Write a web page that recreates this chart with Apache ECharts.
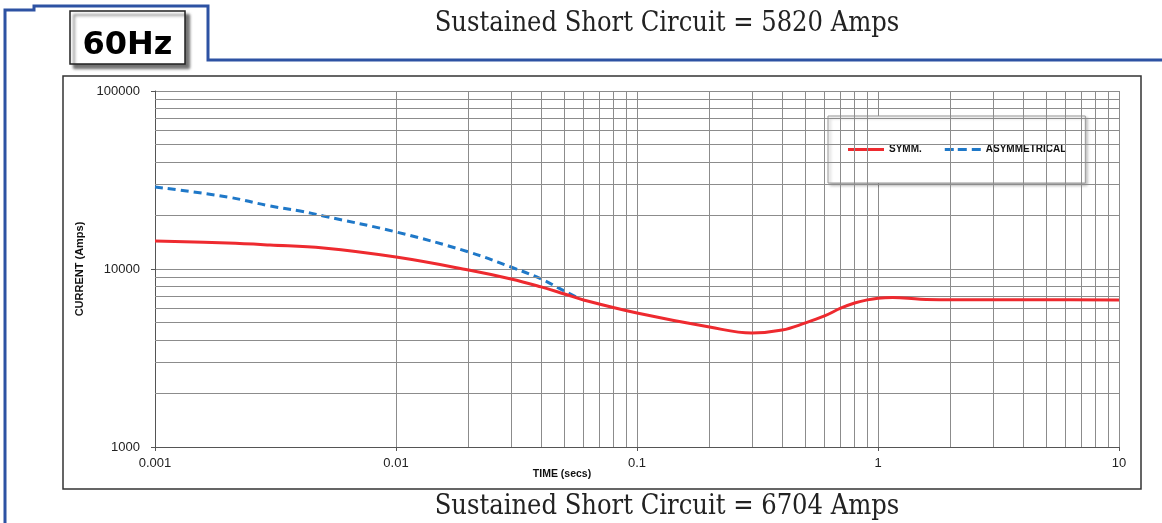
<!DOCTYPE html>
<html>
<head>
<meta charset="utf-8">
<script src="https://cdn.jsdelivr.net/npm/echarts@6/dist/echarts.min.js"></script>
<style>html,body{margin:0;padding:0;background:#fff;}#c{width:1162px;height:523px;}</style>
</head>
<body>
<div id="c"></div>
<script>
// ---- data ----
const timeSymm = [0.001, 0.002, 0.003, 0.005, 0.01, 0.02, 0.03, 0.04, 0.05, 0.06, 0.1, 0.2, 0.3, 0.4, 0.5, 0.6, 0.7, 0.8, 0.9, 1.0, 1.15, 1.5, 2, 5, 10];
const currentSymm = [14370, 13990, 13640, 13120, 11670, 9870, 8790, 7930, 7240, 6700, 5660, 4720, 4370, 4540, 4980, 5450, 6020, 6440, 6700, 6860, 6920, 6760, 6720, 6710, 6704];
const timeAsym = [0.001, 0.002, 0.003, 0.004, 0.005, 0.01, 0.02, 0.03, 0.04, 0.05, 0.058];
const currentAsym = [28900, 25370, 22600, 21180, 19850, 16150, 12470, 10260, 8790, 7520, 6780];
const xTickLabels = ['0.001', '0.01', '0.1', '1', '10'];
const yTickLabels = ['1000', '10000', '100000'];
const xMinorGrid = [];
[0.001, 0.01, 0.1, 1].forEach(d => { for (let k = 2; k <= 9; k++) xMinorGrid.push(+(d * k).toPrecision(3)); });
const yMinorGrid = [];
[1000, 10000].forEach(d => { for (let k = 2; k <= 9; k++) yMinorGrid.push(d * k); });
const topTitle = 'Sustained Short Circuit = 5820 Amps';
const bottomTitle = 'Sustained Short Circuit = 6704 Amps';

const pairs = (xs, ys) => xs.map((x, i) => [x, ys[i]]);
const nearestLabel = (v, labels) => {
  let best = labels[0], bd = Infinity;
  labels.forEach(l => { const d = Math.abs(Math.log10(+l) - Math.log10(v)); if (d < bd) { bd = d; best = l; } });
  return best;
};

const GRID = '#8c8c8c';
const RED = '#ee2a2f';
const BLUE = '#1f78c8';
const chart = echarts.init(document.getElementById('c'), null, { renderer: 'canvas' });
const minorLines = xMinorGrid.map(v => ({ xAxis: v })).concat(yMinorGrid.map(v => ({ yAxis: v })));

chart.setOption({
  animation: false,
  backgroundColor: '#fff',
  grid: { left: 155, right: 43, top: 91, bottom: 76, containLabel: false },
  xAxis: {
    type: 'log', logBase: 10, min: 0.001, max: 10,
    axisLine: { show: true, lineStyle: { color: '#555', width: 1 } },
    axisTick: { show: true, length: 4, lineStyle: { color: '#555' } },
    axisLabel: { margin: 10, fontFamily: 'Liberation Sans', fontSize: 13, color: '#222',
      formatter: v => nearestLabel(v, xTickLabels) },
    splitLine: { show: true, lineStyle: { color: GRID, width: 1 } }
  },
  yAxis: {
    type: 'log', logBase: 10, min: 1000, max: 100000,
    name: 'CURRENT (Amps)', nameLocation: 'middle', nameRotate: 90, nameGap: 66,
    nameTextStyle: { fontFamily: 'Liberation Sans', fontSize: 11, fontWeight: 'bold', color: '#111' },
    axisLine: { show: true, lineStyle: { color: '#555', width: 1 } },
    axisTick: { show: true, length: 4, lineStyle: { color: '#555' } },
    axisLabel: { margin: 15, fontFamily: 'Liberation Sans', fontSize: 13, color: '#222',
      formatter: v => nearestLabel(v, yTickLabels) },
    splitLine: { show: true, lineStyle: { color: GRID, width: 1 } }
  },
  legend: {
    data: [
      { name: 'SYMM.', icon: 'path://M0,0H36V3H0Z' },
      { name: 'ASYMMETRICAL', icon: 'path://M0,0H9V3H0Z M13,0H22V3H13Z M27,0H36V3H27Z' }
    ],
    left: 828, top: 116, orient: 'horizontal',
    padding: [28, 19, 28, 20],
    itemGap: 23, itemWidth: 36, itemHeight: 3,
    backgroundColor: '#fff', borderColor: '#9a9a9a', borderWidth: 1,
    shadowColor: 'rgba(0,0,0,0.3)', shadowBlur: 3, shadowOffsetX: 2, shadowOffsetY: 2,
    textStyle: { fontFamily: 'Liberation Sans', fontSize: 10, fontWeight: 'bold', color: '#111', lineHeight: 11 }
  },
  series: [
    {
      name: 'grid', type: 'line', data: [], z: 1, silent: true,
      markLine: { silent: true, symbol: 'none', animation: false, label: { show: false },
        lineStyle: { color: GRID, width: 1, type: 'solid' }, data: minorLines }
    },
    {
      name: 'SYMM.', type: 'line', data: pairs(timeSymm, currentSymm), z: 5,
      smooth: 0.4, symbol: 'none', showSymbol: false,
      lineStyle: { color: RED, width: 3 }, itemStyle: { color: RED }
    },
    {
      name: 'ASYMMETRICAL', type: 'line', data: pairs(timeAsym, currentAsym), z: 4,
      smooth: 0.4, symbol: 'none', showSymbol: false,
      lineStyle: { color: BLUE, width: 3, type: [8, 5] }, itemStyle: { color: BLUE }
    }
  ],
  graphic: [
    { type: 'polyline', silent: true, z: 10,
      shape: { points: [[5, 523], [5, 10], [34, 10], [34, 6], [208, 6], [208, 60], [1162, 60]] },
      style: { fill: null, stroke: '#2d52a3', lineWidth: 3 } },
    { type: 'rect', silent: true, z: 0,
      shape: { x: 63, y: 76, width: 1078, height: 413 },
      style: { fill: null, stroke: '#333', lineWidth: 1.5 } },
    { type: 'rect', silent: true, z: 10,
      shape: { x: 70, y: 11, width: 115, height: 53 },
      style: { fill: '#fff', stroke: '#222', lineWidth: 1.5,
        shadowColor: 'rgba(0,0,0,0.55)', shadowBlur: 3, shadowOffsetX: 4, shadowOffsetY: 4 } },
    { type: 'text', silent: true, z: 11, x: 127.5, y: 46,
      style: { text: '60Hz', font: 'bold 32px "DejaVu Sans", "Liberation Sans", sans-serif',
        fill: '#000', align: 'center', verticalAlign: 'middle' } },
    { type: 'text', silent: true, z: 11, x: 667, y: 24,
      style: { text: topTitle, font: '27px "DejaVu Serif Condensed", "DejaVu Serif", serif',
        fill: '#222', align: 'center', verticalAlign: 'middle' } },
    { type: 'text', silent: true, z: 11, x: 667, y: 507,
      style: { text: bottomTitle, font: '27px "DejaVu Serif Condensed", "DejaVu Serif", serif',
        fill: '#222', align: 'center', verticalAlign: 'middle' } },
    { type: 'text', silent: true, z: 11, x: 562, y: 474,
      style: { text: 'TIME (secs)', font: 'bold 10.5px "Liberation Sans", Arial, sans-serif',
        fill: '#111', align: 'center', verticalAlign: 'middle' } }
  ]
});
</script>
</body>
</html>
